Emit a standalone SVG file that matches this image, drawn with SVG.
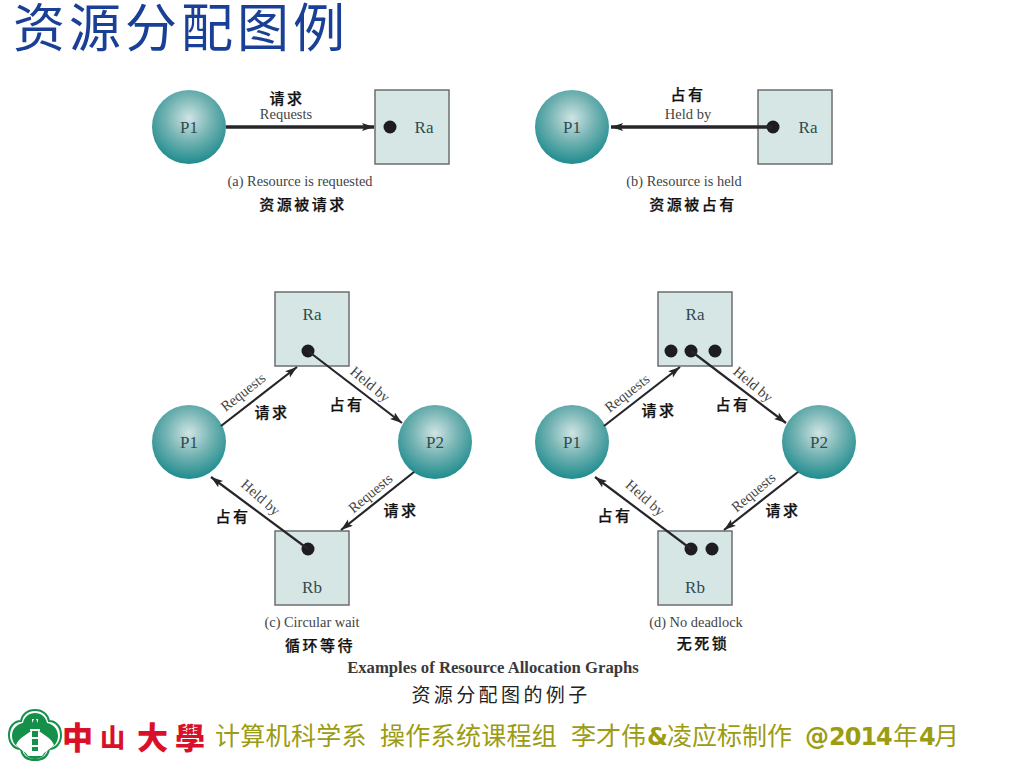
<svg xmlns="http://www.w3.org/2000/svg" width="1024" height="768" viewBox="0 0 1024 768">
<style>
.cn{font-family:"Noto Sans CJK SC","Noto Sans CJK JP",sans-serif}
.zh{font-family:"Noto Sans CJK SC",sans-serif;font-size:15px;font-weight:500;fill:#111;letter-spacing:2.5px;text-anchor:middle;stroke:#111;stroke-width:.25}
.en{font-family:"Liberation Serif",serif;font-size:14.5px;fill:#444;text-anchor:middle}
.cap{font-family:"Liberation Serif",serif;font-size:14.4px;fill:#444;text-anchor:middle}
.nm{font-family:"Liberation Serif",serif;font-size:17px;fill:#2f4b4f;text-anchor:middle}
.res{fill:#d6e6e4;stroke:#6a6f70;stroke-width:1.5}
.dot{fill:#1c1c22}
.edge{stroke:#26262a;stroke-width:2.2;fill:none;marker-end:url(#ah)}
.thick{stroke-width:3.4}
.ft{font-family:"DejaVu Sans",sans-serif;font-weight:700;font-size:24px}
</style>
<defs>
<radialGradient id="ball" cx="0.5" cy="0.38" r="0.62">
<stop offset="0" stop-color="#cfe4e3"/><stop offset="0.5" stop-color="#74b3b3"/><stop offset="1" stop-color="#1f8c8e"/>
</radialGradient>
<marker id="ah" markerUnits="userSpaceOnUse" markerWidth="13" markerHeight="10" refX="12" refY="4" orient="auto">
<path d="M0 0L12 4L0 8L2.5 4Z" fill="#26262a"/>
</marker>
</defs>
<rect width="1024" height="768" fill="#fff"/>
<text class="cn" x="13" y="47" font-size="52" font-weight="400" letter-spacing="4" fill="#1a3f96">资源分配图例</text>

<g id="a-P1"><circle cx="189" cy="127" r="37" fill="url(#ball)"/><text class="nm" x="189" y="133">P1</text></g>
<g id="a-Ra"><rect class="res" x="375" y="90" width="74" height="74"/><circle class="dot" cx="390" cy="127" r="6.5"/><text class="nm" x="424" y="133">Ra</text></g>
<g id="b-P1"><circle cx="572" cy="127" r="37" fill="url(#ball)"/><text class="nm" x="572" y="133">P1</text></g>
<g id="b-Ra"><rect class="res" x="758" y="90" width="74" height="74"/><circle class="dot" cx="773" cy="127" r="6.5"/><text class="nm" x="808" y="133">Ra</text></g>

<g id="c-Ra"><rect class="res" x="275" y="292" width="74" height="74"/><circle class="dot" cx="308" cy="351" r="6.5"/><text class="nm" x="312" y="320">Ra</text></g>
<g id="c-P1"><circle cx="189" cy="442" r="37" fill="url(#ball)"/><text class="nm" x="189" y="448">P1</text></g>
<g id="c-P2"><circle cx="435" cy="442" r="37" fill="url(#ball)"/><text class="nm" x="435" y="448">P2</text></g>
<g id="c-Rb"><rect class="res" x="275" y="531" width="74" height="74"/><circle class="dot" cx="308" cy="549" r="6.5"/><text class="nm" x="312" y="593">Rb</text></g>

<g id="d-Ra"><rect class="res" x="658" y="292" width="74" height="74"/><circle class="dot" cx="671" cy="351" r="6.5"/><circle class="dot" cx="691" cy="351" r="6.5"/><circle class="dot" cx="715" cy="351" r="6.5"/><text class="nm" x="695" y="320">Ra</text></g>
<g id="d-P1"><circle cx="572" cy="442" r="37" fill="url(#ball)"/><text class="nm" x="572" y="448">P1</text></g>
<g id="d-P2"><circle cx="819" cy="442" r="37" fill="url(#ball)"/><text class="nm" x="819" y="448">P2</text></g>
<g id="d-Rb"><rect class="res" x="658" y="531" width="74" height="74"/><circle class="dot" cx="691" cy="549" r="6.5"/><circle class="dot" cx="712" cy="549" r="6.5"/><text class="nm" x="695" y="593">Rb</text></g>

<g id="connectors">
<path class="edge thick" d="M226 127H374"/>
<path class="edge thick" d="M772 127H611"/>
<path class="edge" d="M221 426L297 367"/>
<path class="edge" d="M308 351L402 423"/>
<path class="edge" d="M414 472L341 530"/>
<path class="edge" d="M308 549L211 477"/>
<path class="edge" d="M604 426L680 367"/>
<path class="edge" d="M691 351L786 423"/>
<path class="edge" d="M798 472L724 530"/>
<path class="edge" d="M691 549L595 477"/>
</g>

<g id="labels">
<text class="zh" x="287" y="104">请求</text><text class="en" x="286" y="119">Requests</text>
<text class="zh" x="688" y="100">占有</text><text class="en" x="688" y="119">Held by</text>
<text class="cap" x="300" y="186">(a) Resource is requested</text><text class="zh" x="303" y="210">资源被请求</text>
<text class="cap" x="684" y="186">(b) Resource is held</text><text class="zh" x="693" y="210">资源被占有</text>

<text class="en" transform="translate(246 396) rotate(-38)">Requests</text>
<text class="en" transform="translate(367 388) rotate(40)">Held by</text>
<text class="en" transform="translate(373.5 497) rotate(-40)">Requests</text>
<text class="en" transform="translate(257.5 501) rotate(41)">Held by</text>
<text class="zh" x="272" y="418">请求</text><text class="zh" x="347" y="410">占有</text>
<text class="zh" x="401" y="516">请求</text><text class="zh" x="233" y="522">占有</text>

<text class="en" transform="translate(630 397) rotate(-38)">Requests</text>
<text class="en" transform="translate(750 388) rotate(40)">Held by</text>
<text class="en" transform="translate(756.5 496) rotate(-40)">Requests</text>
<text class="en" transform="translate(642 501.5) rotate(41)">Held by</text>
<text class="zh" x="659" y="416">请求</text><text class="zh" x="733" y="410">占有</text>
<text class="zh" x="783" y="516">请求</text><text class="zh" x="615" y="521">占有</text>

<text class="cap" x="312" y="627">(c) Circular wait</text><text class="zh" x="320" y="651">循环等待</text>
<text class="cap" x="696" y="627">(d) No deadlock</text><text class="zh" x="703" y="649">无死锁</text>
<text x="493" y="673" font-family="Liberation Serif,serif" font-size="16.7" font-weight="700" fill="#3a3a3a" text-anchor="middle">Examples of Resource Allocation Graphs</text>
<text class="cn" x="501" y="702" font-size="19" fill="#222" letter-spacing="3.4" text-anchor="middle">资源分配图的例子</text>
</g>

<g id="logo" transform="translate(6 0)">
<path d="M29 710c8 0 13 5 14 11 7 0 12 6 12 14s-5 14-12 14c-1 7-6 11-14 11s-13-4-14-11c-7 0-12-6-12-14s5-14 12-14c1-6 6-11 14-11Z" fill="#fff" stroke="#14904a" stroke-width="2"/>
<path d="M29 713c6 0 11 4 12 10 6 1 11 6 11 13s-5 12-11 13c-1 6-6 10-12 10s-11-4-12-10c-6-1-11-6-11-13s5-12 11-13c1-6 6-10 12-10Z" fill="#14904a"/>
<path d="M10 745C14 736 20 736 26 730V719h6V730C38 736 44 736 48 745C42 751 38 752 36 756H22C20 752 16 751 10 745Z" fill="#fff"/>
<path d="M29 717l3 6v28h-6V723Z" fill="#14904a"/>
<path d="M24 730h10M23 738h12M22 746h14" stroke="#fff" stroke-width="2"/>
</g>
<g id="school" class="cn" font-weight="900" fill="#d8102a">
<text x="62" y="749" font-size="31">中</text><text x="100" y="747" font-size="25">山</text><text x="137" y="749" font-size="31">大</text><text x="175" y="749" font-size="30">學</text>
</g>
<g id="footer" class="cn" font-size="25" fill="#9c9c12">
<text x="215" y="745" letter-spacing=".3">计算机科学系</text>
<text x="380" y="745" letter-spacing=".3">操作系统课程组</text>
<text x="571" y="745">李才伟</text>
<text class="ft" x="647" y="745">&amp;</text>
<text x="667" y="745">凌应标制作</text>
<text class="ft" x="805" y="745" letter-spacing="-.5">@</text>
<text class="ft" x="829" y="745" letter-spacing="-1">2014</text>
<text x="893" y="745">年</text>
<text class="ft" x="919" y="745">4</text>
<text x="934" y="745">月</text>
</g>
</svg>
